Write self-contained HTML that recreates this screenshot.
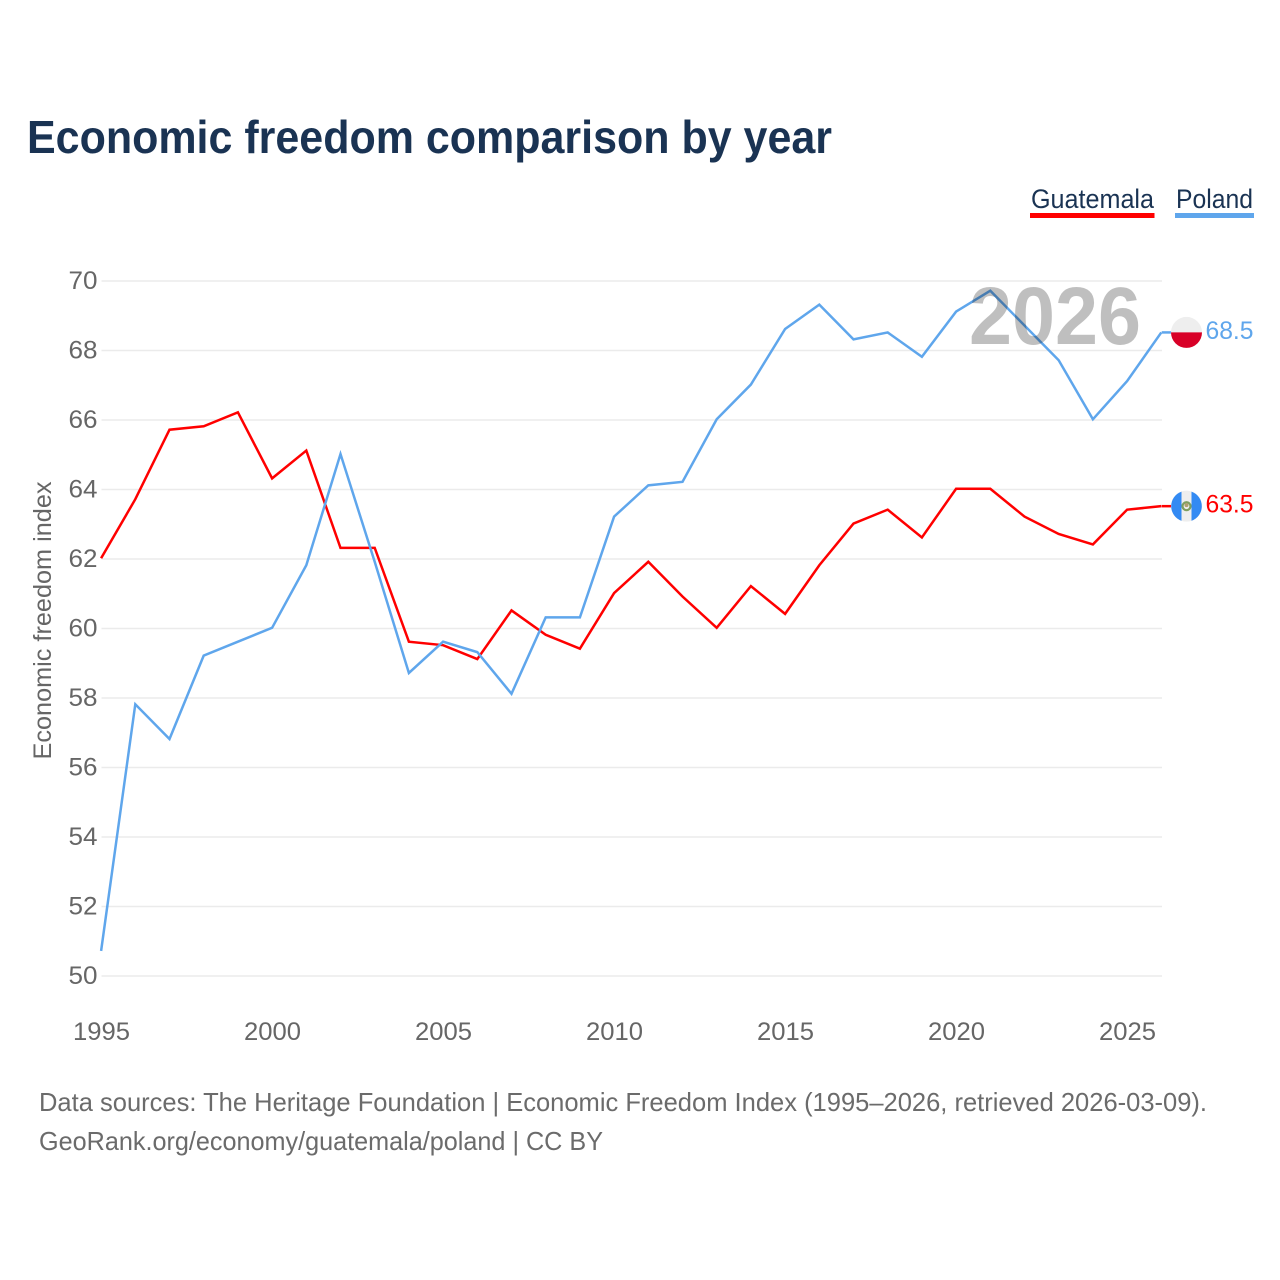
<!DOCTYPE html>
<html lang="en">
<head>
<meta charset="utf-8">
<title>Economic freedom comparison by year</title>
<style>
html,body{margin:0;padding:0;background:#fff;width:1280px;height:1280px;overflow:hidden}
svg{display:block;font-family:"Liberation Sans",sans-serif}
</style>
</head>
<body>
<svg id="chart" xmlns="http://www.w3.org/2000/svg" width="1280" height="1280" viewBox="0 0 1280 1280">
  <text x="27" y="153" font-size="46" font-weight="700" fill="#1a3353" textLength="805" lengthAdjust="spacingAndGlyphs">Economic freedom comparison by year</text>
  <g>
    <g>
      <text x="1031" y="208" font-size="27" fill="#1a3353" textLength="123" lengthAdjust="spacingAndGlyphs">Guatemala</text>
      <rect x="1030" y="213" width="124.500" height="5" fill="#ff0000"/>
    </g>
    <g>
      <text x="1176" y="208" font-size="27" fill="#1a3353" textLength="77" lengthAdjust="spacingAndGlyphs">Poland</text>
      <rect x="1175" y="213" width="79" height="5" fill="#5fa6ec"/>
    </g>
  </g>
  <g id="grid"></g>
  <g id="yticks"></g>
  <g id="xticks"></g>
  <text transform="translate(51,620.500) rotate(-90)" text-anchor="middle" font-size="25" fill="#666666" textLength="278" lengthAdjust="spacingAndGlyphs">Economic freedom index</text>
  <g id="lines" transform="translate(-0.4,-0.7)"></g>
  <text x="969" y="344" font-size="82" font-weight="700" fill="#000000" fill-opacity="0.25" textLength="172" lengthAdjust="spacingAndGlyphs">2026</text>
  <g id="ends" transform="translate(0,-0.7)"></g>
  <text x="39" y="1111" font-size="26" fill="#6b6b6b" textLength="1168" lengthAdjust="spacingAndGlyphs">Data sources: The Heritage Foundation | Economic Freedom Index (1995–2026, retrieved 2026-03-09).</text>
  <text x="39" y="1150" font-size="26" fill="#6b6b6b" textLength="564" lengthAdjust="spacingAndGlyphs">GeoRank.org/economy/guatemala/poland | CC BY</text>
</svg>
<script>
const years = [1995,1996,1997,1998,1999,2000,2001,2002,2003,2004,2005,2006,2007,2008,2009,2010,2011,2012,2013,2014,2015,2016,2017,2018,2019,2020,2021,2022,2023,2024,2025,2026];
const guatemala = [62.0,63.7,65.7,65.8,66.2,64.3,65.1,62.3,62.3,59.6,59.5,59.1,60.5,59.8,59.4,61.0,61.9,60.9,60.0,61.2,60.4,61.8,63.0,63.4,62.6,64.0,64.0,63.2,62.7,62.4,63.4,63.5];
const poland = [50.7,57.8,56.8,59.2,59.6,60.0,61.8,65.0,61.9,58.7,59.6,59.3,58.1,60.3,60.3,63.2,64.1,64.2,66.0,67.0,68.6,69.3,68.3,68.5,67.8,69.1,69.7,68.7,67.7,66.0,67.1,68.5];
const yTickValues = [50,52,54,56,58,60,62,64,66,68,70];
const xTickValues = [1995,2000,2005,2010,2015,2020,2025];

const NS = 'http://www.w3.org/2000/svg';
const xScale = function (year) { return 101.5 + (year - 1995) * 34.2; };
const yScale = function (value) { return 976 - (value - 50) * 34.75; };
function make(tag, attrs, parent) {
  const el = document.createElementNS(NS, tag);
  for (const k in attrs) el.setAttribute(k, attrs[k]);
  parent.appendChild(el);
  return el;
}
const grid = document.getElementById('grid');
const yticks = document.getElementById('yticks');
const xticks = document.getElementById('xticks');
const lines = document.getElementById('lines');
const ends = document.getElementById('ends');

yTickValues.forEach(function (v) {
  const line = make('line', {x1: 101.5, x2: 1162, y1: yScale(v), y2: yScale(v), stroke: '#ebebeb', 'stroke-width': 1.5}, grid);
  
  
  const t = make('text', {x: 97.5, y: yScale(v) + 8, 'text-anchor': 'end', 'font-size': 25, fill: '#666666', textLength: 29, lengthAdjust: 'spacingAndGlyphs'}, yticks);
  t.textContent = v;
  
  
});

xTickValues.forEach(function (y) {
  const t = make('text', {x: xScale(y), y: 1040, 'text-anchor': 'middle', 'font-size': 25, fill: '#666666', textLength: 57, lengthAdjust: 'spacingAndGlyphs'}, xticks);
  t.textContent = y;
  
  
});

function drawSeries(values, color, name) {
  const pts = values.map(function (v, i) { return xScale(years[i]).toFixed(2) + ',' + yScale(v).toFixed(2); }).join(' ');
  const p = make('polyline', {points: pts, fill: 'none', stroke: color, 'stroke-width': 2.5, 'stroke-linejoin': 'miter'}, lines);
  
  
}
drawSeries(guatemala, '#ff0000', 'guatemala');
drawSeries(poland, '#5fa6ec', 'poland');

function drawEnd(values, color, name, flagDraw) {
  const last = values[values.length - 1];
  const cy = yScale(last);
  const lastX = xScale(years[years.length - 1]);
  const stub = make('line', {x1: lastX, x2: 1172, y1: cy, y2: cy, stroke: color, 'stroke-width': 2.5}, ends);
  
  
  const g = make('g', {}, ends);
  
  
  flagDraw(g, 1186.5, cy);
  const t = make('text', {x: 1205.5, y: cy + 6.5, 'font-size': 25, fill: color, textLength: 48, lengthAdjust: 'spacingAndGlyphs'}, ends);
  t.textContent = last.toFixed(1);
  
  
}
drawEnd(poland, '#5fa6ec', 'poland', function (g, cx, cy) {
  make('circle', {cx: cx, cy: cy, r: 15.5, fill: '#eeeeee'}, g);
  make('path', {d: 'M' + (cx - 15.5) + ' ' + cy + 'A15.5 15.5 0 0 0 ' + (cx + 15.5) + ' ' + cy + 'Z', fill: '#d80027'}, g);
});
drawEnd(guatemala, '#ff0000', 'guatemala', function (g, cx, cy) {
  make('circle', {cx: cx, cy: cy, r: 15.5, fill: '#eeeeee'}, g);
  make('path', {d: 'M' + (cx - 5) + ' ' + (cy - 14.6) + 'A15.5 15.5 0 0 0 ' + (cx - 5) + ' ' + (cy + 14.6) + 'Z', fill: '#338af3'}, g);
  make('path', {d: 'M' + (cx + 5) + ' ' + (cy - 14.6) + 'A15.5 15.5 0 0 1 ' + (cx + 5) + ' ' + (cy + 14.6) + 'Z', fill: '#338af3'}, g);
  make('circle', {cx: cx, cy: cy, r: 4, fill: 'none', stroke: '#7f9f5f', 'stroke-width': 2.2}, g);
  make('circle', {cx: cx, cy: cy - 1, r: 2, fill: '#b0a070'}, g);
});
</script>
</body>
</html>
